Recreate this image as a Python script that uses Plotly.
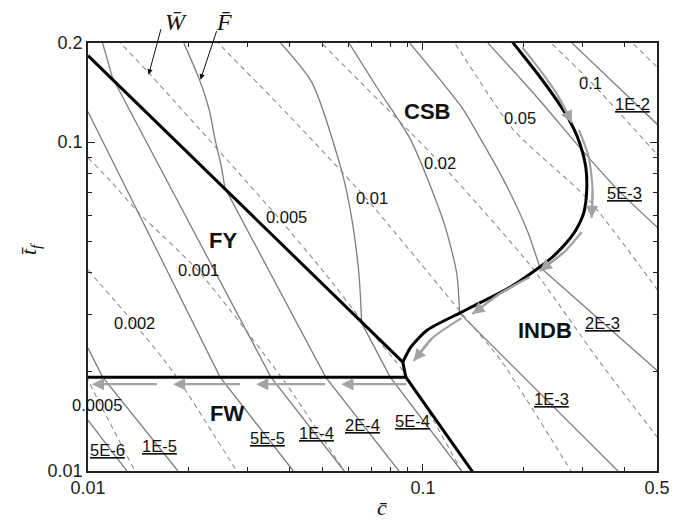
import math
import plotly.graph_objects as go

# ---------------- data (c̄ , t̄f) ----------------
# failure-mode boundaries
bnd_fy_csb_c = [0.0100, 0.0871]
bnd_fy_csb_t = [0.1830, 0.02143]
bnd_kink_c = [0.0871, 0.0889]
bnd_kink_t = [0.02143, 0.01929]
bnd_fw_fy_c = [0.0100, 0.0889]
bnd_fw_fy_t = [0.01929, 0.01929]
bnd_fw_indb_c = [0.0889, 0.1411]
bnd_fw_indb_t = [0.01929, 0.0099]
bnd_csb_indb_c = [0.0871, 0.0920, 0.1031, 0.1287, 0.1395, 0.1825, 0.2233, 0.2437, 0.2678,
                  0.2863, 0.3021, 0.3084, 0.3063, 0.2923, 0.2733, 0.2503, 0.2188, 0.1863, 0.1813]
bnd_csb_indb_t = [0.02143, 0.02380, 0.02682, 0.03020, 0.03149, 0.03624, 0.04170, 0.04472, 0.04933,
                  0.05405, 0.06090, 0.07154, 0.08406, 0.1008, 0.1168, 0.1345, 0.1624, 0.1998, 0.2076]

# load contours F̄ (solid grey)
F_levels = ["5E-6", "1E-5", "5E-5", "1E-4", "2E-4", "5E-4", "1E-3", "2E-3", "5E-3", "1E-2"]
F_c = [
    [0.0100, 0.01309],
    [0.0100, 0.01106, 0.01856],
    [0.0100, 0.02479, 0.04104],
    [0.01106, 0.01183, 0.03516, 0.05821],
    [0.01933, 0.02152, 0.02301, 0.02397, 0.02495, 0.02563, 0.05124, 0.08482],
    [0.0376, 0.04663, 0.05742, 0.06141, 0.06437, 0.06568, 0.07985, 0.1304],
    [0.0602, 0.07364, 0.09195, 0.1156, 0.1261, 0.1287, 0.3822],
    [0.09134, 0.1125, 0.1322, 0.1395, 0.1741, 0.2046, 0.2233, 0.5105],
    [0.1564, 0.2159, 0.2982, 0.3822, 0.5105],
    [0.2788, 0.5105],
]
F_t = [
    [0.01427, 0.00998],
    [0.02363, 0.01929, 0.0100],
    [0.1236, 0.01929, 0.0100],
    [0.1998, 0.1569, 0.01929, 0.0100],
    [0.1998, 0.1547, 0.1253, 0.1015, 0.08525, 0.07255, 0.01929, 0.0100],
    [0.1998, 0.1515, 0.08059, 0.05798, 0.03998, 0.02816, 0.01929, 0.0100],
    [0.1998, 0.1442, 0.1015, 0.05675, 0.03998, 0.0302, 0.0100],
    [0.1998, 0.1547, 0.1253, 0.1144, 0.07674, 0.05405, 0.0417, 0.01984],
    [0.1998, 0.1392, 0.0947, 0.07154, 0.05405],
    [0.1998, 0.1112],
]
F_curved_until = [0, 0, 0, 1, 5, 5, 5, 6, 4, 0]

# weight contours W̄ (dashed grey)
W_levels = ["0.0005", "0.002", "0.001", "0.005", "0.01", "0.02", "0.05", "0.1", ""]
W_c = [
    [0.00987, 0.01084, 0.01381],
    [0.0100, 0.01372, 0.01806, 0.02778],
    [0.0100, 0.01159, 0.01418, 0.02123, 0.03836, 0.05821],
    [0.01224, 0.01265, 0.01517, 0.03685, 0.0509, 0.06658, 0.08831, 0.1066, 0.1304],
    [0.02413, 0.02479, 0.0376, 0.06748, 0.1304, 0.1707, 0.277],
    [0.04823, 0.04988, 0.1125, 0.2088, 0.3342, 0.5174],
    [0.1203, 0.1244, 0.1863, 0.3126, 0.5174],
    [0.234, 0.242, 0.3168, 0.5174],
    [0.4092, 0.423, 0.5174],
]
W_t = [
    [0.01942, 0.01607, 0.0100],
    [0.04083, 0.02816, 0.01984, 0.0100],
    [0.08953, 0.07674, 0.0609, 0.04083, 0.01888, 0.0100],
    [0.2046, 0.1976, 0.1624, 0.05921, 0.03998, 0.02816, 0.01984, 0.01447, 0.0100],
    [0.2046, 0.1976, 0.128, 0.06763, 0.0302, 0.02173, 0.0100],
    [0.2076, 0.1998, 0.08645, 0.04229, 0.02173, 0.01214],
    [0.2076, 0.1998, 0.1089, 0.0667, 0.03403],
    [0.2076, 0.1998, 0.1526, 0.08829],
    [0.2076, 0.1998, 0.1636],
]

# grey path arrows along the CSB/INDB boundary
arr_curve_c = [
    [0.1979, 0.2233, 0.2520, 0.2788],
    [0.2923, 0.3126, 0.3211, 0.3189],
    [0.2982, 0.2642, 0.2233],
    [0.2088, 0.1707, 0.1404],
    [0.1304, 0.1066, 0.09382],
]
arr_curve_t = [
    [0.1943, 0.1659, 0.1392, 0.1144],
    [0.1089, 0.09016, 0.07154, 0.0588],
    [0.05329, 0.04632, 0.04054],
    [0.03887, 0.03474, 0.02999],
    [0.02916, 0.02535, 0.02158],
]
# grey arrows along the FW/FY boundary (tail c, head c)
arr_flat_t = 0.01836
arr_flat_tail_c = [0.0901, 0.05158, 0.02873, 0.01623]
arr_flat_head_c = [0.05704, 0.03178, 0.01795, 0.01027]

# text labels
W_label_c = [0.01062, 0.01381, 0.02137, 0.03914, 0.07026, 0.1125, 0.1952, 0.3168]
W_label_t = [0.01585, 0.02816, 0.04083, 0.05921, 0.06763, 0.08645, 0.1185, 0.1515]
W_label_txt = ["0.0005", "0.002", "0.001", "0.005", "0.01", "0.02", "0.05", "0.1"]
F_label_txt = ["5E-6", "1E-5", "5E-5", "1E-4", "2E-4", "5E-4", "1E-3", "2E-3", "5E-3", "1E-2"]
F_label_c = [0.01144, 0.01634, 0.03445, 0.04823, 0.06612, 0.09318, 0.2420, 0.3433, 0.4009, 0.4230]
F_label_t = [0.01156, 0.01189, 0.01257, 0.01302, 0.01378, 0.01417, 0.01653, 0.02816, 0.07005, 0.1308]
region_txt = ["CSB", "FY", "FW", "INDB"]
region_c = [0.1031, 0.02529, 0.02598, 0.2309]
region_t = [0.1236, 0.05003, 0.01498, 0.02682]

# pointer arrows to one W̄ and one F̄ contour (tail c, tail t, head c, head t)
ptr_W = [0.01656, 0.2227, 0.01517, 0.1602]
ptr_F = [0.02429, 0.2196, 0.02167, 0.1547]

x_ticks = [0.01, 0.1, 0.5]
x_minor = [0.02, 0.03, 0.04, 0.05, 0.06, 0.07, 0.08, 0.09, 0.2, 0.3, 0.4]
y_ticks = [0.01, 0.1, 0.2]
y_minor = [0.02, 0.03, 0.04, 0.05, 0.06, 0.07, 0.08, 0.09]

# ---------------- styles ----------------
SANS = "Liberation Sans, Arial, sans-serif"
SERIF = "Liberation Serif, Times New Roman, serif"
GREY = "#7d7d7d"
DGREY = "#8e8e8e"
AGREY = "#a3a3a3"
L = math.log10

fig = go.Figure()

for cs, ts in zip(W_c, W_t):
    fig.add_trace(go.Scatter(x=cs, y=ts, mode="lines", line=dict(color=DGREY, width=1.1, dash="5px,4px",
                                                                  shape="spline", smoothing=0.6)))

for cs, ts, k in zip(F_c, F_t, F_curved_until):
    if k > 0:
        fig.add_trace(go.Scatter(x=cs[:k + 1], y=ts[:k + 1], mode="lines",
                                 line=dict(color=GREY, width=1.3, shape="spline", smoothing=0.7)))
    fig.add_trace(go.Scatter(x=cs[k:], y=ts[k:], mode="lines", line=dict(color=GREY, width=1.3)))

for cs, ts in [(bnd_fy_csb_c, bnd_fy_csb_t), (bnd_kink_c, bnd_kink_t),
               (bnd_fw_fy_c, bnd_fw_fy_t), (bnd_fw_indb_c, bnd_fw_indb_t)]:
    fig.add_trace(go.Scatter(x=cs, y=ts, mode="lines", line=dict(color="black", width=3)))
fig.add_trace(go.Scatter(x=bnd_csb_indb_c, y=bnd_csb_indb_t, mode="lines",
                         line=dict(color="black", width=3, shape="spline", smoothing=0.7)))

for cs, ts in zip(arr_curve_c, arr_curve_t):
    fig.add_trace(go.Scatter(x=cs, y=ts, mode="lines",
                             line=dict(color=AGREY, width=2.2, shape="spline", smoothing=0.7)))

ann = []
for cs, ts in zip(arr_curve_c, arr_curve_t):
    ann.append(dict(x=L(cs[-1]), y=L(ts[-1]), ax=L(cs[-2]), ay=L(ts[-2]), xref="x", yref="y",
                    axref="x", ayref="y", text="", showarrow=True, arrowhead=2, arrowsize=1.1,
                    arrowwidth=2.2, arrowcolor=AGREY, standoff=0))
for tc, hc in zip(arr_flat_tail_c, arr_flat_head_c):
    ann.append(dict(x=L(hc), y=L(arr_flat_t), ax=L(tc), ay=L(arr_flat_t), xref="x", yref="y",
                    axref="x", ayref="y", text="", showarrow=True, arrowhead=2, arrowsize=1.1,
                    arrowwidth=2.2, arrowcolor=AGREY, standoff=0))

for s, cc, tt in zip(W_label_txt, W_label_c, W_label_t):
    ann.append(dict(x=L(cc), y=L(tt), text=s, showarrow=False, font=dict(family=SANS, size=16.5, color="#111")))
for s, cc, tt in zip(F_label_txt, F_label_c, F_label_t):
    ann.append(dict(x=L(cc), y=L(tt), text="<u>" + s + "</u>", showarrow=False,
                    font=dict(family=SANS, size=16.5, color="#111")))
for s, cc, tt in zip(region_txt, region_c, region_t):
    ann.append(dict(x=L(cc), y=L(tt), text="<b>" + s + "</b>", showarrow=False,
                    font=dict(family=SANS, size=22, color="#111")))

# W̄ / F̄ pointer arrows
for p in (ptr_W, ptr_F):
    ann.append(dict(x=L(p[2]), y=L(p[3]), ax=L(p[0]), ay=L(p[1]), xref="x", yref="y", axref="x", ayref="y",
                    text="", showarrow=True, arrowhead=2, arrowsize=1.1, arrowwidth=1, arrowcolor="#111"))
# their symbols, above the frame
ann.append(dict(x=0.132, y=1.085, xref="paper", yref="paper", text="<i>W\u0304</i>", showarrow=False,
                font=dict(family=SERIF, size=24, color="#111")))
ann.append(dict(x=0.222, y=1.085, xref="paper", yref="paper", text="<i>F\u0304</i>", showarrow=False,
                font=dict(family=SERIF, size=24, color="#111")))

# axis titles
ann.append(dict(x=0.518, y=-0.118, xref="paper", yref="paper", text="<i>c\u0304</i>", showarrow=False,
                font=dict(family=SERIF, size=22, color="#111")))
ann.append(dict(x=-0.129, y=0.52, xref="paper", yref="paper", text="<i>t\u0304<sub>f</sub></i>", showarrow=False,
                textangle=-90, font=dict(family=SERIF, size=22, color="#111")))

axis_common = dict(type="log", showgrid=False, zeroline=False, showline=True, linecolor="#222", linewidth=1.6,
                   mirror="ticks", ticks="inside", ticklen=7, tickwidth=1.3, tickcolor="#222",
                   tickfont=dict(family=SANS, size=18, color="#222"))
fig.update_layout(
    width=682, height=527, autosize=False,
    margin=dict(l=88, r=12, t=43, b=56),
    paper_bgcolor="white", plot_bgcolor="white",
    showlegend=False, hovermode=False,
    annotations=ann,
    xaxis=dict(range=[L(0.01), L(0.5)], tickvals=x_ticks, ticktext=[str(v) for v in x_ticks],
               minor=dict(tickvals=x_minor, ticks="inside", ticklen=4, tickwidth=1.2, tickcolor="#222"),
               **axis_common),
    yaxis=dict(range=[L(0.01), L(0.2)], tickvals=y_ticks, ticktext=[str(v) for v in y_ticks],
               minor=dict(tickvals=y_minor, ticks="inside", ticklen=4, tickwidth=1.2, tickcolor="#222"),
               **axis_common),
)

fig.write_html("out.html")
